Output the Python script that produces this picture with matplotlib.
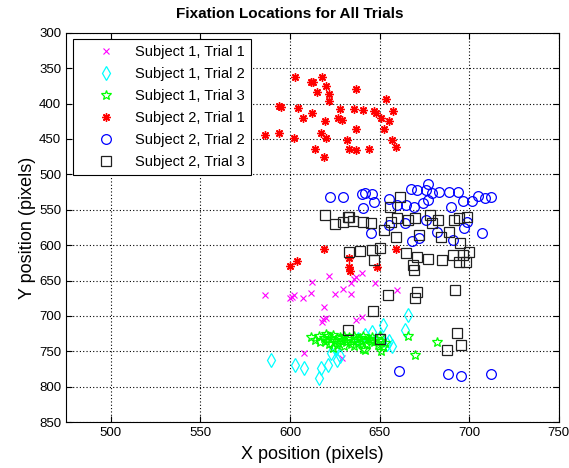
import numpy as np
import matplotlib.pyplot as plt

plt.rcParams['font.family'] = ['Liberation Sans', 'DejaVu Sans']

# subject 1, trial 1 (magenta x)
s1t1_x = [586, 600, 602, 607, 612, 612.5, 622, 625, 629.5, 634, 634, 636, 619, 618.5, 620,
          617.6, 637, 640, 608, 629, 601, 647.7, 660, 640, 637]
s1t1_y = [671, 675, 671, 674, 668, 652, 644, 669, 662, 669, 654, 648, 688, 705, 703,
          709, 706, 702, 752, 760, 673, 653, 664, 639, 645]

# subject 1, trial 2 (cyan diamonds)
s1t2_x = [589.5, 602.6, 608, 616, 617.5, 621, 623, 626, 628, 638, 641.6, 646, 652, 654,
          666, 664, 655, 625, 650, 657]
s1t2_y = [762, 770, 774, 788, 774, 770, 753, 762, 757, 732, 727, 722, 713, 739,
          699, 720, 735, 745, 730, 743]

# subject 1, trial 3 (green stars)
s1t3_x = [612, 614, 616, 617, 619, 620, 621, 622, 623, 624, 625, 626, 627, 628, 629, 630,
          631, 632, 633, 634, 635, 636, 637, 638, 639, 640, 641, 642, 643, 644, 645, 646,
          647, 648, 649, 650, 651, 652, 620, 626, 630, 636, 624, 641, 651, 666, 682, 670,
          653, 641.6]
s1t3_y = [730, 734, 728, 737, 731, 735, 729, 740, 733, 727, 736, 731, 738, 730, 734, 728,
          737, 733, 730, 739, 735, 729, 733, 738, 731, 736, 729, 734, 739, 732, 735, 730,
          737, 733, 741, 729, 735, 744, 726, 741, 742, 742, 745, 747, 749, 729, 737, 755,
          738, 748]

# subject 2, trial 1 (red asterisks)
s2t1_x = [603, 612, 613, 618, 620, 615, 621.5, 622, 637, 594, 595, 604.5, 612.5, 607, 628,
          636, 641, 647, 648, 653.5, 657.4, 651, 655, 627, 629, 619.5, 636.6, 652.7, 594,
          602, 617.5, 620, 632, 657, 659, 614, 633, 636.6, 644, 619, 586,
          619, 600, 604, 633, 632.7, 633.5, 648.4, 659]
s2t1_y = [362, 370, 369, 363, 374.5, 384, 387, 397, 380, 404, 405, 406, 413, 420, 408,
          408, 409, 410, 413, 394, 410, 421, 424, 421, 423, 425, 436, 436, 442,
          448, 442, 449, 452, 452, 461, 464, 464, 465.5, 464, 475, 445,
          606, 629.5, 622.5, 618, 631, 636, 630.5, 606]

# subject 2, trial 2 (blue circles)
s2t2_x = [622.6, 629.5, 640, 642, 646, 647, 641, 645, 655.5, 660, 665, 667.6, 671, 677,
          676, 679, 683.4, 689, 694, 677, 674, 669, 696.3, 701.5, 704.7, 708.8, 712.1,
          655, 672, 668, 676, 682, 697, 707, 699, 664, 690, 691,
          661, 688, 695.4, 712]
s2t2_y = [531.5, 531.5, 528, 527, 528, 539, 548, 583, 535, 543, 543, 520, 522, 514,
          522, 527, 524.5, 524.5, 524.5, 536, 541, 546.5, 537, 537, 530.5, 533, 531.5,
          572, 590, 594, 564.5, 581, 576, 582.5, 567, 569, 546, 593,
          778, 782, 785, 782]

# subject 2, trial 3 (black squares)
s2t3_x = [661.5, 656, 619.7, 625, 629.5, 632.3, 633, 635, 640.6, 645.3, 656.5, 660, 665.7,
          670, 678, 679, 682.4, 691.7, 694.5, 699, 652.7, 659, 672, 684.3, 689, 694.8,
          638.8, 646, 650, 632.7, 665, 670.7, 677, 647, 668.5, 669, 685, 690.8, 696.3,
          700, 694.5, 698, 654.6, 671, 669.8, 692, 646.4, 632.5, 650.3, 693, 695.6, 687.6]
s2t3_y = [531.5, 546, 557.4, 570, 567, 560, 560, 565.5, 567, 569, 567, 562, 564.5,
          561, 557.4, 569, 564.5, 564.5, 562, 560, 578.6, 588, 586, 588, 581, 597.5,
          608, 607, 604.5, 609, 611.6, 616.4, 620, 621, 628, 635, 621, 614, 614,
          609, 623.5, 623.5, 670.6, 666, 674.4, 663.5, 693, 720, 732, 723.4, 741, 748.4]

series = [
    (s1t1_x, s1t1_y, 'Subject 1, Trial 1', dict(marker='x', color='#ff00ff', ms=4.5, mew=0.8)),
    (s1t2_x, s1t2_y, 'Subject 1, Trial 2', dict(marker='d', color='#00ffff', mfc='none', ms=7, mew=0.9)),
    (s1t3_x, s1t3_y, 'Subject 1, Trial 3', dict(marker='*', color='#00ff00', mfc='none', ms=7.5, mew=0.9)),
    (s2t1_x, s2t1_y, 'Subject 2, Trial 1', dict(marker=(8, 2, 0), color='#ff0000', ms=6, mew=1.0)),
    (s2t2_x, s2t2_y, 'Subject 2, Trial 2', dict(marker='o', color='#0000ff', mfc='none', ms=7, mew=0.9)),
    (s2t3_x, s2t3_y, 'Subject 2, Trial 3', dict(marker='s', color='#202020', mfc='none', ms=7.5, mew=0.9)),
]

fig = plt.figure(figsize=(5.69, 4.68), dpi=100)
ax = fig.add_axes([0.116, 0.098, 0.866, 0.832])

for xs, ys, lab, st in series:
    ax.plot(xs, ys, linestyle='none', label=lab, **st)

ax.set_xlim(475, 750)
ax.set_ylim(850, 300)
ax.set_xticks(np.arange(500, 751, 50))
ax.set_yticks(np.arange(300, 851, 50))
ax.grid(True, linestyle=(0, (1, 2)), color='k', linewidth=0.8)
ax.tick_params(direction='in', top=True, right=True, labelsize=9.5, length=4)
for sp in ax.spines.values():
    sp.set_linewidth(0.8)

fig.text(0.51, 0.97, 'Fixation Locations for All Trials', fontsize=11, fontweight='bold',
         ha='center', va='center')
ax.set_xlabel('X position (pixels)', fontsize=13, labelpad=5)
ax.set_ylabel('Y position (pixels)', fontsize=13, labelpad=2)

leg = ax.legend(loc='upper left', fontsize=10.5, fancybox=False, framealpha=1,
                edgecolor='k', borderaxespad=0.45, borderpad=0.4, handletextpad=0.1,
                labelspacing=0.55, handlelength=3.8)
leg.get_frame().set_linewidth(0.8)

fig.savefig('out.png', dpi=100)
